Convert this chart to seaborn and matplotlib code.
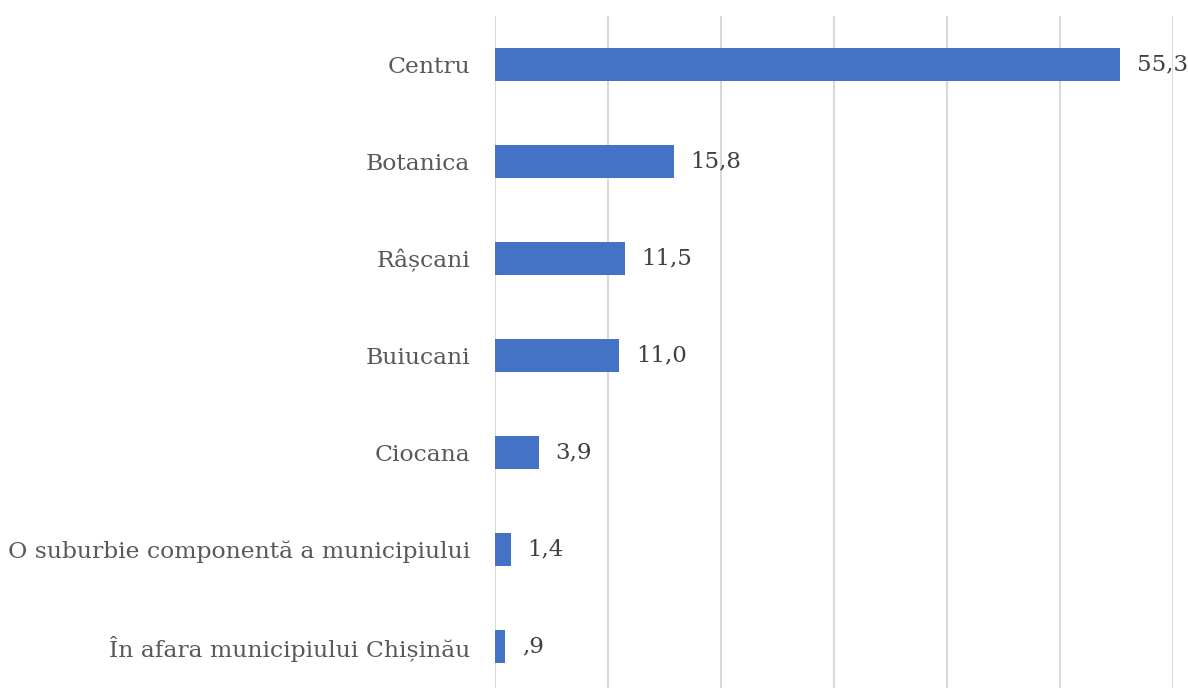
import matplotlib
matplotlib.use("Agg")
import matplotlib.pyplot as plt
import seaborn as sns
import pandas as pd

sns.set_theme(style="white")
plt.rcParams['font.family'] = ['DejaVu Serif']

sectors = ['Centru', 'Botanica', 'Râșcani', 'Buiucani', 'Ciocana',
           'O suburbie componentă a municipiului',
           'În afara municipiului Chișinău']
values = [55.3, 15.8, 11.5, 11.0, 3.9, 1.4, 0.9]
value_labels = ['55,3', '15,8', '11,5', '11,0', '3,9', '1,4', ',9']

df = pd.DataFrame({'sector': sectors, 'value': values})

text_color = '#595959'
fig = plt.figure(figsize=(11.88, 6.88), dpi=100)
ax = fig.add_axes([495 / 1188, -7 / 688, 678 / 1188, 679 / 688])

sns.barplot(data=df, x='value', y='sector', orient='h', color='#4472C4',
            saturation=1, width=0.34, linewidth=0, ax=ax)

ax.set_xlim(0, 60)
ax.set_xticks(range(0, 61, 10))
ax.set_xticklabels([])
ax.xaxis.grid(True, color='#D9D9D9', linewidth=1.5)
ax.yaxis.grid(False)
ax.set_axisbelow(True)
for s in ax.spines.values():
    s.set_visible(False)
ax.set_xlabel('')
ax.set_ylabel('')
ax.tick_params(axis='y', length=0, pad=18, labelsize=16.9, labelcolor=text_color)
ax.tick_params(axis='x', length=0)

for i, (v, lab) in enumerate(zip(values, value_labels)):
    ax.annotate(lab, xy=(v, i), xytext=(12, 0), textcoords='offset points',
                va='center', ha='left', fontsize=16.5, color='#404040')

fig.savefig('out.png', dpi=100)
